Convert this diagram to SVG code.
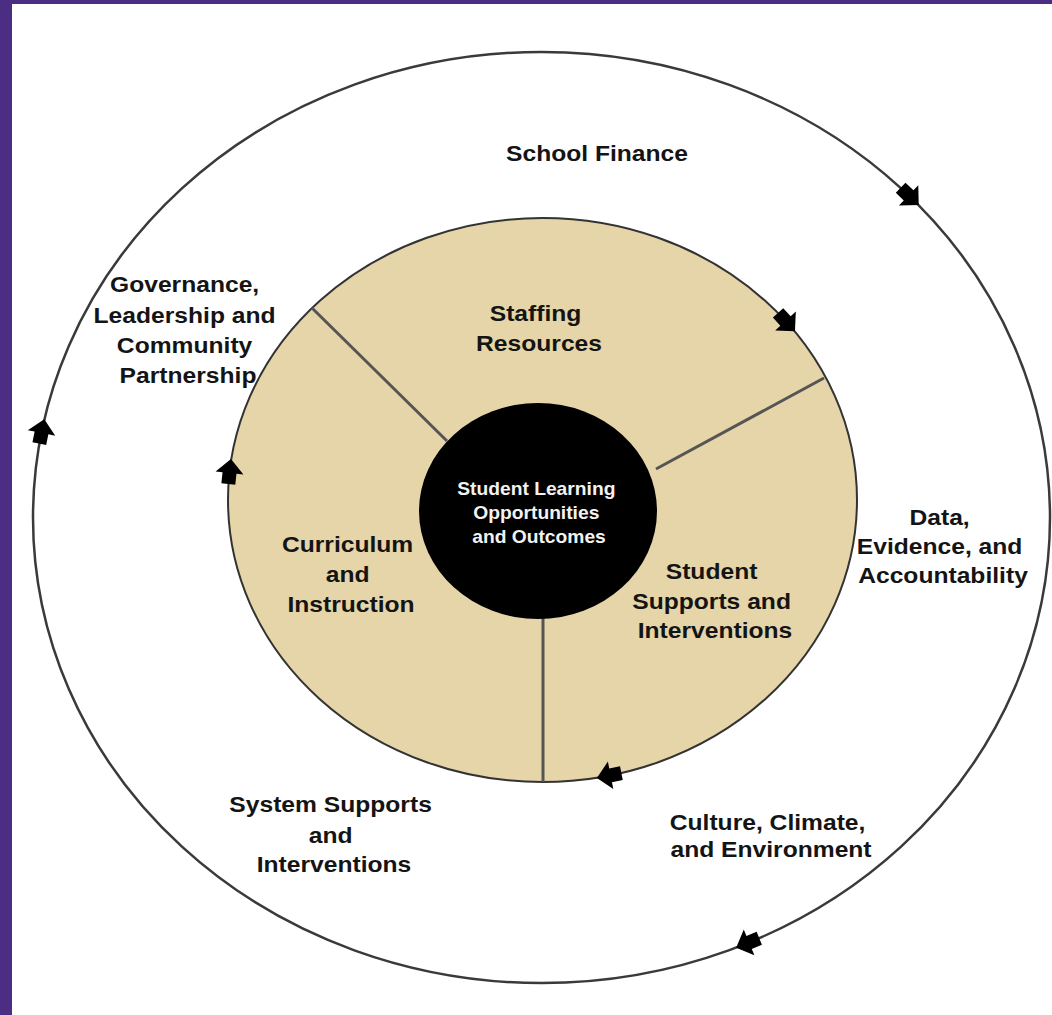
<svg xmlns="http://www.w3.org/2000/svg" width="1052" height="1015" viewBox="0 0 1052 1015">
  <defs>
    <style>
      .lbl { font-family: "Liberation Sans", Arial, sans-serif; font-weight: bold; font-size: 22px; fill: #141414; text-anchor: middle; }
      .core { font-family: "Liberation Sans", Arial, sans-serif; font-weight: bold; font-size: 17.5px; fill: #f2f2f2; text-anchor: middle; }
      .ring { fill: none; stroke: #3a3a3a; stroke-width: 2.5; }
      .divider { stroke: #555; stroke-width: 3; }
      .arrow { fill: #000; }
    </style>
    <!-- block arrow pointing along +x, centred on its anchor point -->
    <path id="flow" d="M14,0 L0,-14 L0,-7 L-11,-7 L-11,7 L0,7 L0,14 Z"/>
  </defs>

  <!-- frame -->
  <rect x="0" y="0" width="1052" height="1015" fill="#4b2e83"/>
  <rect x="12" y="4" width="1040" height="1011" fill="#ffffff"/>

  <!-- outer cycle -->
  <g id="outer-ring">
    <ellipse class="ring" cx="541.5" cy="517.5" rx="508.5" ry="465.5"/>
  </g>

  <!-- inner cycle with the three domains -->
  <g id="inner-ring">
    <ellipse cx="542.5" cy="500" rx="314.5" ry="282" fill="#e5d5a8" stroke="#333" stroke-width="2"/>
  </g>

  <g id="dividers">
    <line class="divider" x1="312" y1="308" x2="447" y2="441"/>
    <line class="divider" x1="824" y1="378" x2="656" y2="469"/>
    <line class="divider" x1="543" y1="615" x2="543" y2="782"/>
  </g>

  <!-- centre -->
  <g id="node-core">
    <ellipse cx="538" cy="511" rx="119" ry="108" fill="#000"/>
    <text class="core" transform="translate(539 0) scale(1.1 1)">
      <tspan x="0" y="495">Student Learning</tspan>
      <tspan x="0" y="519">Opportunities</tspan>
      <tspan x="0" y="543">and Outcomes</tspan>
    </text>
  </g>

  <!-- inner domains -->
  <g id="node-staffing">
    <text class="lbl" transform="translate(539 0) scale(1.12 1)">
      <tspan x="0" y="321">Staffing</tspan>
      <tspan x="0" y="351">Resources</tspan>
    </text>
  </g>
  <g id="node-curriculum">
    <text class="lbl" transform="translate(351 0) scale(1.12 1)">
      <tspan x="0" y="552">Curriculum</tspan>
      <tspan x="0" y="582">and</tspan>
      <tspan x="0" y="612">Instruction</tspan>
    </text>
  </g>
  <g id="node-student-supports">
    <text class="lbl" transform="translate(715 0) scale(1.12 1)">
      <tspan x="0" y="579">Student</tspan>
      <tspan x="0" y="609">Supports and</tspan>
      <tspan x="0" y="638">Interventions</tspan>
    </text>
  </g>

  <!-- outer domains -->
  <g id="node-finance">
    <text class="lbl" transform="translate(597 0) scale(1.12 1)">
      <tspan x="0" y="161">School Finance</tspan>
    </text>
  </g>
  <g id="node-governance">
    <text class="lbl" transform="translate(188 0) scale(1.12 1)">
      <tspan x="0" y="292">Governance,</tspan>
      <tspan x="0" y="323">Leadership and</tspan>
      <tspan x="0" y="353">Community</tspan>
      <tspan x="0" y="383">Partnership</tspan>
    </text>
  </g>
  <g id="node-data">
    <text class="lbl" transform="translate(943 0) scale(1.12 1)">
      <tspan x="0" y="525">Data,</tspan>
      <tspan x="0" y="554">Evidence, and</tspan>
      <tspan x="0" y="583">Accountability</tspan>
    </text>
  </g>
  <g id="node-system">
    <text class="lbl" transform="translate(334 0) scale(1.12 1)">
      <tspan x="0" y="812">System Supports</tspan>
      <tspan x="0" y="843">and</tspan>
      <tspan x="0" y="872">Interventions</tspan>
    </text>
  </g>
  <g id="node-culture">
    <text class="lbl" transform="translate(771 0) scale(1.12 1)">
      <tspan x="0" y="830">Culture, Climate,</tspan>
      <tspan x="0" y="857">and Environment</tspan>
    </text>
  </g>

  <!-- clockwise flow markers on both cycles -->
  <g id="connectors" class="arrow">
    <use href="#flow" transform="translate(908.6 195.4) rotate(43.7)"/>
    <use href="#flow" transform="translate(41.5 432.9) rotate(-78.6)"/>
    <use href="#flow" transform="translate(749.1 942.4) rotate(157.7)"/>
    <use href="#flow" transform="translate(785.5 321) rotate(47.5)"/>
    <use href="#flow" transform="translate(229.5 473) rotate(-83.9)"/>
    <use href="#flow" transform="translate(610.6 775.3) rotate(168.8)"/>
  </g>
</svg>
